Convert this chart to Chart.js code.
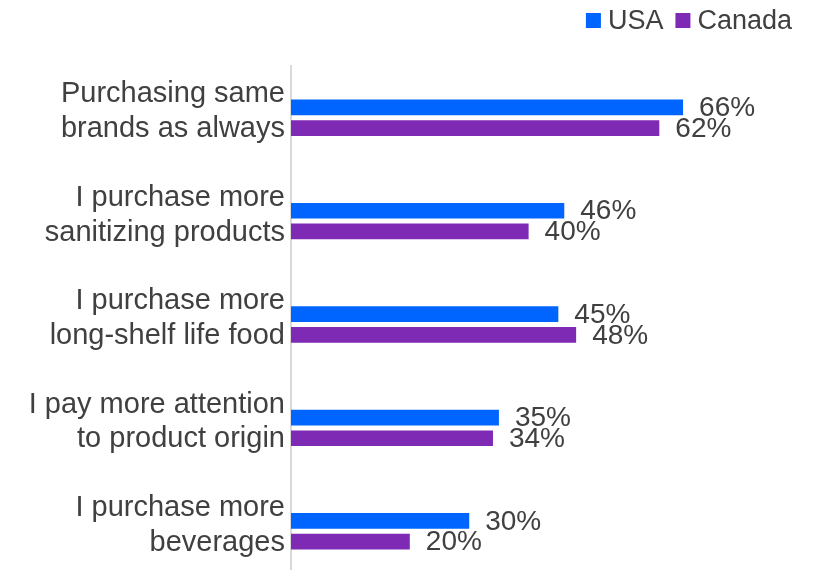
<!DOCTYPE html>
<html>
<head>
<meta charset="utf-8">
<script src="https://cdn.jsdelivr.net/npm/chart.js@4"></script>
<style>
    html, body { margin: 0; padding: 0; background: #fff; overflow: hidden; }
</style>
</head>
<body>
<canvas id="chart" width="818" height="590"></canvas>
<script>
// Chart data
const categories = [
    ['Purchasing same', 'brands as always'],
    ['I purchase more', 'sanitizing products'],
    ['I purchase more', 'long-shelf life food'],
    ['I pay more attention', 'to product origin'],
    ['I purchase more', 'beverages'],
];
const usaValues = [66, 46, 45, 35, 30];
const canadaValues = [62, 40, 48, 34, 20];
const seriesNames = ['USA', 'Canada'];
const seriesColors = ['#0064ff', '#7f2ab5'];

const textColor = '#404040';
const fontFamily = '"Liberation Sans", Arial, sans-serif';

// Draw "NN%" at the end of every bar
const valueLabels = {
    id: 'valueLabels',
    afterDatasetsDraw(chart) {
        const ctx = chart.ctx;
        ctx.save();
        ctx.font = '28px ' + fontFamily;
        ctx.fillStyle = textColor;
        ctx.textAlign = 'left';
        ctx.textBaseline = 'middle';
        chart.data.datasets.forEach((ds, i) => {
            chart.getDatasetMeta(i).data.forEach((bar, j) => {
                ctx.fillText(ds.data[j] + '%', bar.x + 16, bar.y + 1);
            });
        });
        ctx.restore();
    }
};

// Small legend at top right: square marker + name, tight spacing
const topLegend = {
    id: 'topLegend',
    afterDraw(chart) {
        const ctx = chart.ctx;
        ctx.save();
        ctx.font = '27px ' + fontFamily;
        ctx.textBaseline = 'middle';
        ctx.textAlign = 'left';
        const box = 15, gap = 7, spacing = 12, y = 20.5;
        const widths = chart.data.datasets.map(ds => box + gap + ctx.measureText(ds.label).width);
        let x = 792 - widths.reduce((a, b) => a + b, 0) - spacing * (widths.length - 1);
        chart.data.datasets.forEach((ds, i) => {
            ctx.fillStyle = ds.backgroundColor;
            ctx.fillRect(x, y - box / 2, box, box);
            ctx.fillStyle = textColor;
            ctx.fillText(ds.label, x + box + gap, y + 1);
            x += widths[i] + spacing;
        });
        ctx.restore();
    }
};

new Chart(document.getElementById('chart'), {
    type: 'bar',
    data: {
        labels: categories,
        datasets: [{
            label: seriesNames[0],
            data: usaValues,
            backgroundColor: seriesColors[0],
            categoryPercentage: 0.4,
            barPercentage: 0.76,
        }, {
            label: seriesNames[1],
            data: canadaValues,
            backgroundColor: seriesColors[1],
            categoryPercentage: 0.4,
            barPercentage: 0.76,
        }]
    },
    options: {
        indexAxis: 'y',
        responsive: false,
        animation: false,
        layout: { padding: { top: 66, right: 28, bottom: 7, left: 0 } },
        plugins: {
            legend: { display: false },
            tooltip: { enabled: false },
        },
        scales: {
            x: {
                display: false,
                min: 0,
                max: 84,
            },
            y: {
                afterFit(scale) {
                    scale.width = 291;
                    // labels may run past the canvas bottom, like the original
                    scale.paddingTop = 0;
                    scale.paddingBottom = 0;
                },
                grid: { display: false, drawTicks: false },
                border: { display: true, color: '#d9d9d9', width: 2 },
                ticks: {
                    color: textColor,
                    padding: 6,
                    labelOffset: -6,
                    font: { family: fontFamily, size: 29, lineHeight: 1.2 },
                },
            },
        },
    },
    plugins: [valueLabels, topLegend],
});
</script>
</body>
</html>
